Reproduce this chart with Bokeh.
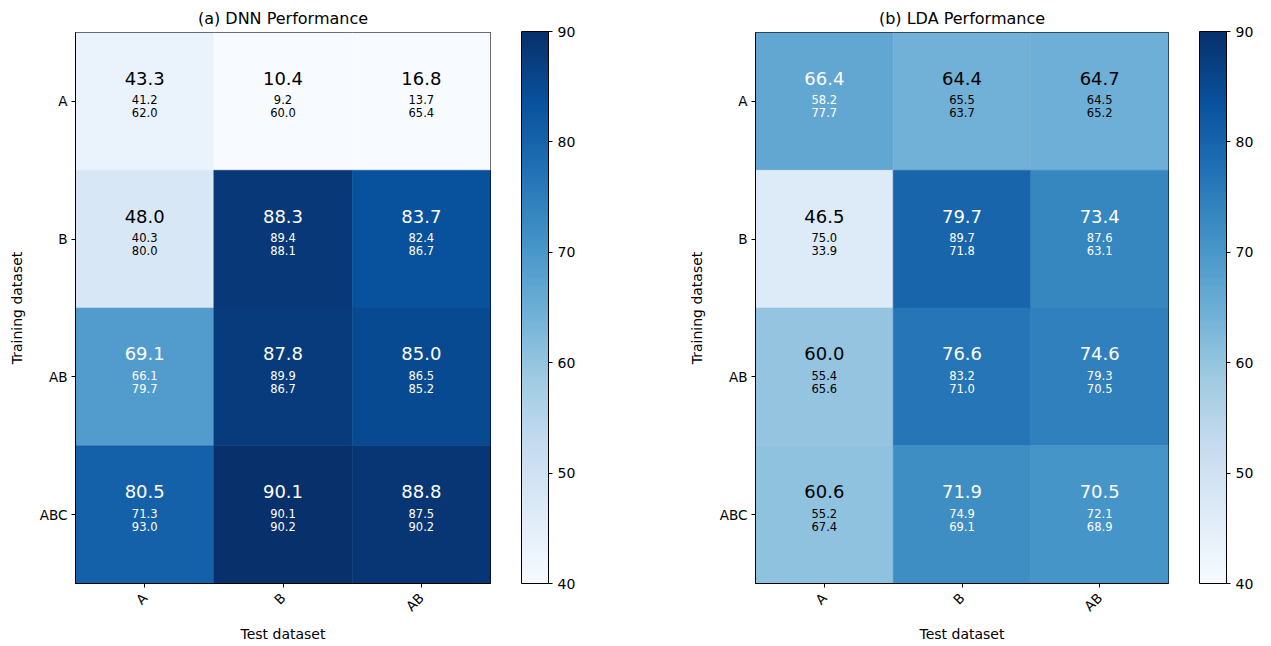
import numpy as np
from math import pi
from bokeh.plotting import figure
from bokeh.layouts import row
from bokeh.models import ColumnDataSource, LinearColorMapper, ColorBar, FixedTicker, FactorRange
from bokeh.transform import transform
from bokeh.core.properties import value
from bokeh.embed import file_html
from bokeh.resources import INLINE

test_sets = ["A", "B", "AB"]
train_sets = ["A", "B", "AB", "ABC"]

dnn_main = [[43.3, 10.4, 16.8], [48.0, 88.3, 83.7], [69.1, 87.8, 85.0], [80.5, 90.1, 88.8]]
dnn_sub1 = [[41.2, 9.2, 13.7], [40.3, 89.4, 82.4], [66.1, 89.9, 86.5], [71.3, 90.1, 87.5]]
dnn_sub2 = [[62.0, 60.0, 65.4], [80.0, 88.1, 86.7], [79.7, 86.7, 85.2], [93.0, 90.2, 90.2]]

lda_main = [[66.4, 64.4, 64.7], [46.5, 79.7, 73.4], [60.0, 76.6, 74.6], [60.6, 71.9, 70.5]]
lda_sub1 = [[58.2, 65.5, 64.5], [75.0, 89.7, 87.6], [55.4, 83.2, 79.3], [55.2, 74.9, 72.1]]
lda_sub2 = [[77.7, 63.7, 65.2], [33.9, 71.8, 63.1], [65.6, 71.0, 70.5], [67.4, 69.1, 68.9]]

vmin, vmax = 40, 90
cbar_ticks = [40, 50, 60, 70, 80, 90]

# matplotlib "Blues" colormap, interpolated to 256 steps
blues_anchors = ["#f7fbff", "#deebf7", "#c6dbef", "#9ecae1", "#6baed6",
                 "#4292c6", "#2171b5", "#08519c", "#08306b"]
def make_palette(anchors, n=256):
    rgb = np.array([[int(h[i:i + 2], 16) for i in (1, 3, 5)] for h in anchors], dtype=float)
    xs = np.linspace(0, 1, len(anchors))
    t = np.linspace(0, 1, n)
    out = []
    for v in t:
        c = [np.interp(v, xs, rgb[:, k]) for k in range(3)]
        out.append("#%02x%02x%02x" % tuple(int(round(x)) for x in c))
    return out
palette = make_palette(blues_anchors)

FONT = "DejaVu Sans"
FRAME_H = 552


def heatmap(title, main, sub1, sub2, width, left, right):
    xs, ys, vals, t_main, t_s1, t_s2, tcol = [], [], [], [], [], [], []
    for i, tr in enumerate(train_sets):
        for j, te in enumerate(test_sets):
            xs.append(te)
            ys.append(tr)
            v = main[i][j]
            vals.append(v)
            t_main.append("%.1f" % v)
            t_s1.append("%.1f" % sub1[i][j])
            t_s2.append("%.1f" % sub2[i][j])
            tcol.append("white" if v > (vmin + vmax) / 2 else "black")
    src = ColumnDataSource(dict(x=xs, y=ys, v=vals, tm=t_main, s1=t_s1, s2=t_s2, tc=tcol))
    mapper = LinearColorMapper(palette=palette, low=vmin, high=vmax)

    p = figure(width=width, height=644, output_backend="svg", toolbar_location=None,
               x_range=FactorRange(*test_sets, range_padding=0),
               y_range=FactorRange(*reversed(train_sets), range_padding=0),
               min_border_left=left, min_border_right=right, min_border_top=32,
               min_border_bottom=60, title=title)
    p.rect(x="x", y="y", width=1, height=1, source=src,
           fill_color=transform("v", mapper), line_color=transform("v", mapper), line_width=0.5)
    p.text(x="x", y="y", text="tm", source=src, text_color="tc", y_offset=-23,
           text_align="center", text_baseline="middle", text_font=value(FONT), text_font_size="18px")
    p.text(x="x", y="y", text="s1", source=src, text_color="tc", y_offset=-1.5,
           text_align="center", text_baseline="middle", text_font=value(FONT), text_font_size="11.5px")
    p.text(x="x", y="y", text="s2", source=src, text_color="tc", y_offset=11.5,
           text_align="center", text_baseline="middle", text_font=value(FONT), text_font_size="11.5px")

    p.title.align = "center"
    p.title.text_font = FONT
    p.title.text_font_size = "16px"
    p.title.text_font_style = "normal"
    p.title.text_color = "black"

    p.xgrid.grid_line_color = None
    p.ygrid.grid_line_color = None
    p.outline_line_color = "black"
    p.outline_line_alpha = 1
    p.outline_line_width = 1

    for ax in (p.xaxis[0], p.yaxis[0]):
        ax.major_tick_out = 4
        ax.major_tick_in = 0
        ax.minor_tick_line_color = None
        ax.major_tick_line_color = "black"
        ax.axis_line_color = "black"
        ax.major_label_text_font = FONT
        ax.major_label_text_font_size = "13.5px"
        ax.major_label_text_color = "black"
        ax.axis_label_text_font = FONT
        ax.axis_label_text_font_size = "14px"
        ax.axis_label_text_font_style = "normal"
        ax.axis_label_text_color = "black"
    p.xaxis.axis_label = "Test dataset"
    p.yaxis.axis_label = "Training dataset"
    p.xaxis.major_label_orientation = pi / 4
    p.xaxis.major_label_standoff = 8
    p.xaxis.axis_label_standoff = 3
    p.yaxis.major_label_standoff = 4
    p.yaxis.axis_label_standoff = 12

    cb = ColorBar(color_mapper=mapper, ticker=FixedTicker(ticks=cbar_ticks),
                  width=27, height=FRAME_H, margin=0, padding=0, location=(31, 0),
                  major_tick_out=4, major_tick_in=0, major_tick_line_color="black",
                  bar_line_color="black", bar_line_width=1,
                  major_label_text_font=FONT, major_label_text_font_size="14px",
                  major_label_text_color="black", label_standoff=5,
                  background_fill_color=None, border_line_color=None)
    p.add_layout(cb, "right")
    return p


p1 = heatmap("(a) DNN Performance", dnn_main, dnn_sub1, dnn_sub2, 628, 75, 138)
p2 = heatmap("(b) LDA Performance", lda_main, lda_sub1, lda_sub2, 635, 127, 95)

layout = row(p1, p2)
open("out.html", "w").write(file_html(layout, INLINE))
